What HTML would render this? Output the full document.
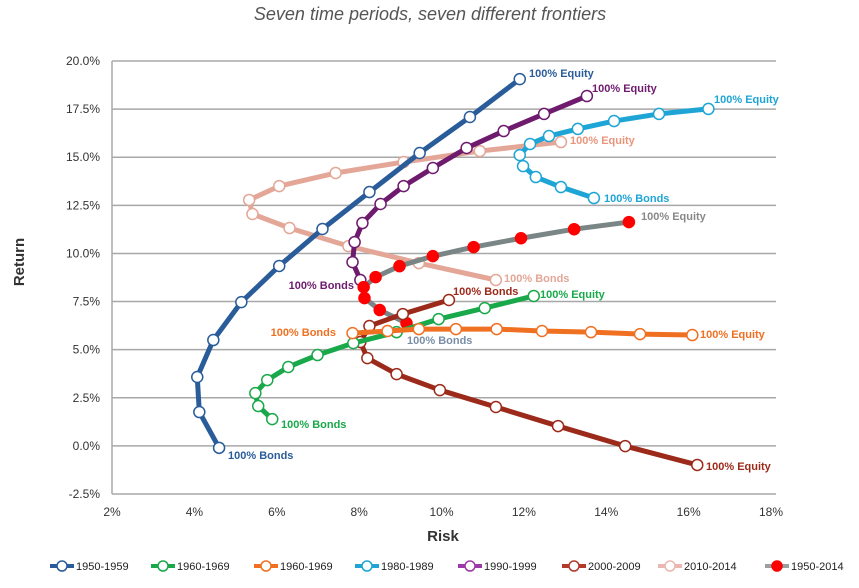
<!DOCTYPE html>
<html><head><meta charset="utf-8"><style>
body{margin:0;background:#fff;}
svg{display:block;font-family:"Liberation Sans",sans-serif;}
</style></head><body>
<svg id="chart" width="859" height="588" viewBox="0 0 859 588">
<text x="430" y="20" text-anchor="middle" font-size="18" font-style="italic" fill="#555">Seven time periods, seven different frontiers</text>
<g id="grid"></g>
<g id="series"></g>
<g id="labels"></g>
<text x="0" y="0" transform="translate(24,262) rotate(-90)" text-anchor="middle" font-size="15" font-weight="bold" fill="#333">Return</text>
<text x="443" y="541" text-anchor="middle" font-size="15" font-weight="bold" fill="#333">Risk</text>
<g id="legend"></g>
</svg>
<script>
const xTicks=[2,4,6,8,10,12,14,16,18];
const yTicks=[-2.5,0,2.5,5,7.5,10,12.5,15,17.5,20];
const seriesNames=["1950-1959","1960-1969","1960-1969","1980-1989","1990-1999","2000-2009","2010-2014","1950-2014"];
const risk5059=[4.60,4.12,4.07,4.46,5.14,6.06,7.11,8.25,9.47,10.69,11.90];
const ret5059=[-0.1,1.76,3.58,5.50,7.47,9.35,11.27,13.19,15.22,17.09,19.06];
const risk6069=[5.89,5.55,5.48,5.77,6.28,6.99,7.86,8.91,9.93,11.05,12.24];
const ret6069=[1.39,2.07,2.74,3.42,4.10,4.72,5.34,5.91,6.59,7.16,7.79];
const riskOr=[7.84,8.69,9.45,10.35,11.34,12.44,13.63,14.82,16.09];
const retOr=[5.86,5.97,6.07,6.07,6.07,5.97,5.91,5.81,5.76];
const risk8089=[13.70,12.90,12.29,11.98,11.90,12.15,12.61,13.31,14.19,15.28,16.48];
const ret8089=[12.88,13.45,13.97,14.54,15.11,15.69,16.10,16.47,16.88,17.25,17.51];
const risk9099=[8.03,7.84,7.89,8.08,8.52,9.08,9.79,10.61,11.51,12.49,13.53];
const ret9099=[8.62,9.55,10.59,11.58,12.57,13.50,14.44,15.48,16.36,17.25,18.18];
const risk0009=[10.18,9.06,8.25,8.03,8.20,8.91,9.96,11.32,12.83,14.46,16.21];
const ret0009=[7.58,6.85,6.23,5.40,4.56,3.73,2.90,2.02,1.03,-0.01,-0.99];
const risk1014=[11.32,9.45,7.74,6.31,5.41,5.33,6.06,7.43,9.08,10.93,12.90];
const ret1014=[8.62,9.50,10.38,11.32,12.05,12.78,13.50,14.18,14.75,15.32,15.79];
const riskAll=[9.15,8.50,8.13,8.11,8.40,8.98,9.79,10.78,11.93,13.22,14.55];
const retAll=[6.38,7.06,7.68,8.25,8.77,9.34,9.86,10.33,10.79,11.26,11.63];

const NS="http://www.w3.org/2000/svg";
const X0=112,X1=776,Y0=61,Y1=494;
const xs=v=>X0+(v-2)/(18-2)*(771-112);
const ys=v=>Y0+(20-v)/22.5*(Y1-Y0);
function mk(tag,attrs,parent){const e=document.createElementNS(NS,tag);for(const k in attrs)e.setAttribute(k,attrs[k]);parent.appendChild(e);return e;}
const grid=document.getElementById('grid');
yTicks.forEach(t=>{
 const l=mk('line',{x1:X0,x2:X1,y1:ys(t),y2:ys(t),stroke:'#a8a8a8','stroke-width':1.5},grid);
 
 
 const tx=mk('text',{x:X0-12,y:ys(t)+4,'text-anchor':'end','font-size':12,fill:'#333'},grid);
 tx.textContent=t.toFixed(1)+'%';
 
 
});
const ax=mk('line',{x1:X0,x2:X0,y1:Y0,y2:Y1,stroke:'#a8a8a8','stroke-width':1.5},grid);


xTicks.forEach(t=>{
 const tx=mk('text',{x:xs(t),y:Y1+22,'text-anchor':'middle','font-size':12,fill:'#333'},grid);
 tx.textContent=t+'%';
 
 
});
const series=[
 {r:risk1014,v:ret1014,c:'#e3a697',f:'#fff',n:'2010-2014'},
 {r:risk5059,v:ret5059,c:'#2a5c9a',f:'#fff',n:'1950-1959'},
 {r:risk9099,v:ret9099,c:'#6e1b6e',f:'#fff',n:'1990-1999'},
 {r:risk8089,v:ret8089,c:'#1ea5d5',f:'#fff',n:'1980-1989'},
 {r:riskAll,v:retAll,c:'#7a8585',f:'#f00',n:'1950-2014'},
 {r:risk0009,v:ret0009,c:'#9c2a1a',f:'#fff',n:'2000-2009'},
 {r:risk6069,v:ret6069,c:'#19a84a',f:'#fff',n:'1960-1969'},
 {r:riskOr,v:retOr,c:'#f07022',f:'#fff',n:'1960-1969-orange'}
];
const sg=document.getElementById('series');
series.forEach(s=>{
 const g=mk('g',{},sg);
 
 
 const pts=s.r.map((r,i)=>xs(r)+','+ys(s.v[i])).join(' ');
 const pl=mk('polyline',{points:pts,fill:'none',stroke:s.c,'stroke-width':5,'stroke-linejoin':'round','stroke-linecap':'round'},g);
 
 
 s.r.forEach((r,i)=>{
  const c=mk('circle',{cx:xs(r),cy:ys(s.v[i]),r:5.5,fill:s.f,stroke:s.f==='#fff'?s.c:'#f00','stroke-width':1.5},g);
  
  
 });
});
const labelTexts=["100% Equity","100% Bonds","100% Bonds","100% Equity","100% Bonds","100% Equity","100% Bonds","100% Equity","100% Equity","100% Bonds","100% Bonds","100% Equity","100% Bonds","100% Equity","100% Bonds","100% Equity"];
const labelSpecs=[
 [529,77,'#2a5c9a','start'],[228,459,'#2a5c9a','start'],
 [281,428,'#19a84a','start'],[540,298,'#19a84a','start'],
 [336,336,'#f07022','end'],[700,338,'#f07022','start'],
 [604,202,'#1ea5d5','start'],[714,103,'#1ea5d5','start'],
 [592,92,'#6e1b6e','start'],[354,289,'#6e1b6e','end'],
 [453,295,'#9c2a1a','start'],[706,470,'#9c2a1a','start'],
 [504,282,'#e3a697','start'],[570,144,'#e8957c','start'],
 [407,344,'#7a8ea8','start'],[641,220,'#888','start']
];
const lg=document.getElementById('labels');
labelSpecs.forEach((p,i)=>{
 const t=mk('text',{x:p[0],y:p[1],'text-anchor':p[3],'font-size':11,'font-weight':'bold',fill:p[2]},lg);
 t.textContent=labelTexts[i];
 
 
});
const legCols=['#2a5c9a','#19a84a','#f07022','#1ea5d5','#9b3aa6','#b23a28','#ebb7b0','#9aa0a0'];
const legX=[50,151,254,355,458,562,658,765];
const leg=document.getElementById('legend');
seriesNames.forEach((n,i)=>{
 const g=mk('g',{},leg);
 
 
 const x=legX[i],y=566;
 mk('line',{x1:x,x2:x+24,y1:y,y2:y,stroke:legCols[i],'stroke-width':4},g);
 mk('circle',{cx:x+12,cy:y,r:5,fill:i===7?'#f00':'#fff',stroke:i===7?'#f00':legCols[i],'stroke-width':1.5},g);
 const t=mk('text',{x:x+26,y:y+4,'font-size':11,fill:'#222'},g);
 t.textContent=n;
});
</script>
</body></html>
